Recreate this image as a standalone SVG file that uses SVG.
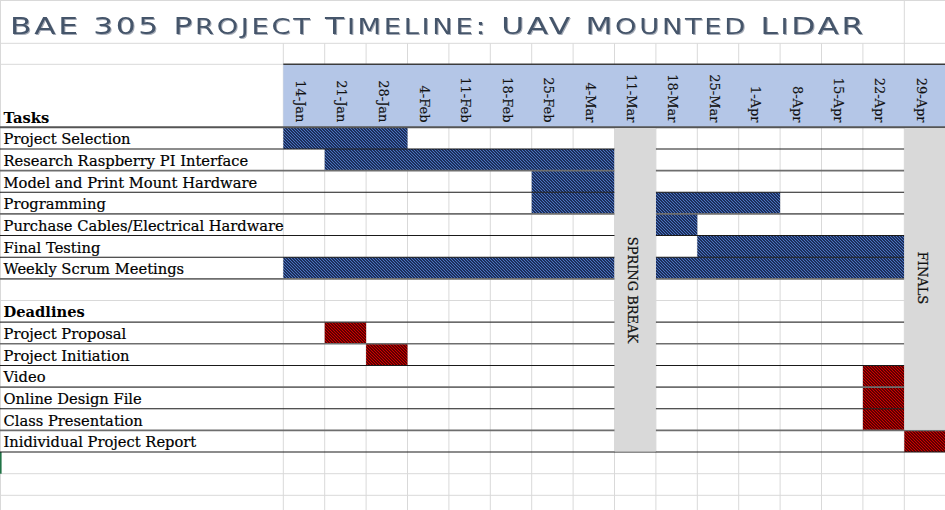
<svg xmlns="http://www.w3.org/2000/svg" width="945" height="510" viewBox="0 0 945 510">
<style>
.bg{fill:#ffffff}
.grid{stroke:#d9d9d9;stroke-width:1;fill:none}
.rd{stroke:#1a1a1a;stroke-width:1.1;fill:none}
.rg{stroke:#6e6e6e;stroke-width:1.6;fill:none}
.hb{stroke:#3c3c3c;stroke-width:1.6;fill:none}
.lbl{font-family:"DejaVu Serif","Liberation Serif",serif;font-size:14.7px;fill:#000;stroke:#000;stroke-width:0.2}
.b{font-weight:bold;stroke-width:0}
.date{font-family:"DejaVu Serif","Liberation Serif",serif;font-size:13px;fill:#111;stroke:#111;stroke-width:0.15}
.vtx{font-family:"DejaVu Serif","Liberation Serif",serif;font-size:13px;fill:#111;stroke:#111;stroke-width:0.25;text-anchor:middle}
.blue{fill:url(#pb)}
.red{fill:url(#pr)}
.gray{fill:#d9d9d9}
.title{font-family:"DejaVu Sans","Liberation Sans",sans-serif;fill:#44546a;font-size:23.5px;letter-spacing:2px}
.sc{font-size:20.5px;text-transform:uppercase}
</style>
<defs>
<pattern id="pb" patternUnits="userSpaceOnUse" width="3" height="3">
<rect width="3" height="3" fill="#1c2f5c"/>
<path d="M0,0L3,3M-1,2L1,4M2,-1L4,1" stroke="#4a72c0" stroke-width="1"/>
</pattern>
<pattern id="pr" patternUnits="userSpaceOnUse" width="3" height="3">
<rect width="3" height="3" fill="#2a0000"/>
<path d="M0,0L3,3M-1,2L1,4M2,-1L4,1" stroke="#d40000" stroke-width="1.2"/>
</pattern>
<filter id="sh" x="-5%" y="-30%" width="110%" height="160%">
<feDropShadow dx="1" dy="1" stdDeviation="0.7" flood-color="#7f8898" flood-opacity="0.7"/>
</filter>
</defs>
<rect class="bg" x="0" y="0" width="945" height="510"/>

<g id="gridlines">
<path class="grid" d="M0.5,0V510M0,0.5H945M0,43.3H945M0,64.3H283.3M0,300.5H945M0,473.7H945M0,495.3H945M904.3,0V43.3"/>
<path class="grid" d="M283.3,43.3V510M324.7,43.3V510M366.1,43.3V510M407.5,43.3V510M448.9,43.3V510M490.3,43.3V510M531.7,43.3V510M573.1,43.3V510M614.5,43.3V510M655.9,43.3V510M697.3,43.3V510M738.7,43.3V510M780.1,43.3V510M821.5,43.3V510M862.9,43.3V510M904.3,43.3V510"/>
<line x1="0.8" y1="452" x2="0.8" y2="473.7" stroke="#217346" stroke-width="1.6"/>
</g>

<g id="title">
<text class="title" x="10" y="33.5" textLength="856" lengthAdjust="spacingAndGlyphs" filter="url(#sh)">BAE 305 P<tspan class="sc">roject</tspan> T<tspan class="sc">imeline</tspan>: UAV M<tspan class="sc">ounted</tspan> L<tspan class="sc">i</tspan>DAR</text>
</g>

<g id="header">
<rect x="283.3" y="64.3" width="662" height="63" fill="#b4c6e7"/>
<path class="hb" d="M283.3,64.3H945"/>
<text class="lbl b" x="3.5" y="122.5">Tasks</text>
<g class="date" text-anchor="end">
<text transform="translate(295.8,122.5) rotate(90)">14-Jan</text>
<text transform="translate(337.2,122.5) rotate(90)">21-Jan</text>
<text transform="translate(378.6,122.5) rotate(90)">28-Jan</text>
<text transform="translate(420,122.5) rotate(90)">4-Feb</text>
<text transform="translate(461.4,122.5) rotate(90)">11-Feb</text>
<text transform="translate(502.8,122.5) rotate(90)">18-Feb</text>
<text transform="translate(544.2,122.5) rotate(90)">25-Feb</text>
<text transform="translate(585.6,122.5) rotate(90)">4-Mar</text>
<text transform="translate(627,122.5) rotate(90)">11-Mar</text>
<text transform="translate(668.4,122.5) rotate(90)">18-Mar</text>
<text transform="translate(709.8,122.5) rotate(90)">25-Mar</text>
<text transform="translate(751.2,122.5) rotate(90)">1-Apr</text>
<text transform="translate(792.6,122.5) rotate(90)">8-Apr</text>
<text transform="translate(834,122.5) rotate(90)">15-Apr</text>
<text transform="translate(875.4,122.5) rotate(90)">22-Apr</text>
<text transform="translate(916.8,122.5) rotate(90)">29-Apr</text>
</g>
</g>

<g id="bars">
<rect id="bar-selection" class="blue" x="283.3" y="127.3" width="124.2" height="21.65"/>
<rect id="bar-research" class="blue" x="324.7" y="148.95" width="289.8" height="21.65"/>
<rect id="bar-model" class="blue" x="531.7" y="170.6" width="82.8" height="21.65"/>
<rect id="bar-programming-1" class="blue" x="531.7" y="192.25" width="82.8" height="21.65"/>
<rect id="bar-programming-2" class="blue" x="655.9" y="192.25" width="124.2" height="21.65"/>
<rect id="bar-purchase" class="blue" x="655.9" y="213.9" width="41.4" height="21.65"/>
<rect id="bar-testing" class="blue" x="697.3" y="235.55" width="207" height="21.65"/>
<rect id="bar-scrum-1" class="blue" x="283.3" y="257.2" width="331.2" height="21.65"/>
<rect id="bar-scrum-2" class="blue" x="655.9" y="257.2" width="248.4" height="21.65"/>
<rect id="dl-proposal" class="red" x="324.7" y="322.15" width="41.4" height="21.65"/>
<rect id="dl-initiation" class="red" x="366.1" y="343.8" width="41.4" height="21.65"/>
<rect id="dl-video" class="red" x="862.9" y="365.45" width="41.4" height="21.65"/>
<rect id="dl-online" class="red" x="862.9" y="387.1" width="41.4" height="21.65"/>
<rect id="dl-class" class="red" x="862.9" y="408.75" width="41.4" height="21.65"/>
<rect id="dl-report" class="red" x="904.3" y="430.4" width="41.4" height="21.65"/>
</g>

<g id="row-lines">
<path d="M0,127.3H945" stroke="#555" stroke-width="2" fill="none"/>
<path class="rd" d="M0,148.95H904.3M0,192.25H904.3M0,235.55H904.3M0,257.2H904.3M0,365.45H904.3M0,408.75H904.3M0,452.05H945"/>
<path class="rg" d="M0,170.6H904.3M0,213.9H904.3M0,278.85H904.3M0,343.8H904.3M0,387.1H904.3M0,430.4H945"/>
<path d="M0,322.15H904.3" stroke="#3a3a3a" stroke-width="1.4" fill="none"/>
</g>

<g id="spring-break">
<rect class="gray" x="614.5" y="128.3" width="41.4" height="323.2"/>
<text class="vtx" transform="translate(627.5,290) rotate(90)">SPRING BREAK</text>
</g>

<g id="finals">
<rect class="gray" x="904.3" y="128.3" width="41.4" height="301.6"/>
<text class="vtx" transform="translate(918,278) rotate(90)">FINALS</text>
</g>

<g id="task-labels" class="lbl">
<text x="3.5" y="144.3">Project Selection</text>
<text x="3.5" y="165.9">Research Raspberry PI Interface</text>
<text x="3.5" y="187.6">Model and Print Mount Hardware</text>
<text x="3.5" y="209.2">Programming</text>
<text x="3.5" y="230.9">Purchase Cables/Electrical Hardware</text>
<text x="3.5" y="252.5">Final Testing</text>
<text x="3.5" y="274.2">Weekly Scrum Meetings</text>
</g>

<g id="deadline-labels" class="lbl">
<text class="b" x="3.5" y="317">Deadlines</text>
<text x="3.5" y="339.1">Project Proposal</text>
<text x="3.5" y="360.8">Project Initiation</text>
<text x="3.5" y="382.4">Video</text>
<text x="3.5" y="404.1">Online Design File</text>
<text x="3.5" y="425.7">Class Presentation</text>
<text x="3.5" y="447.4">Inidividual Project Report</text>
</g>

<g id="connectors"></g>
</svg>
